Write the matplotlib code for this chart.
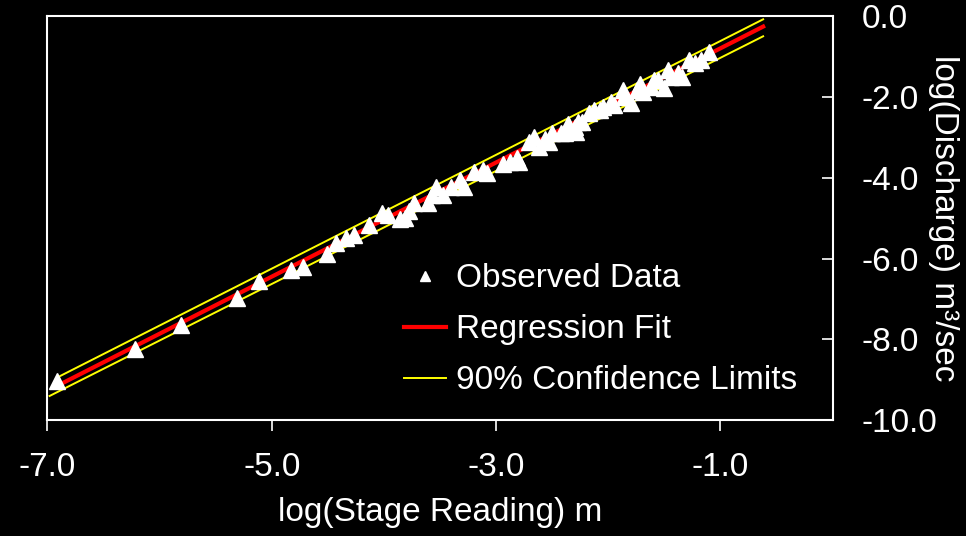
import matplotlib
matplotlib.use('Agg')
import matplotlib.pyplot as plt
import numpy as np

# observed points (log stage, log discharge)
stage = [-6.91, -6.22, -5.81, -5.31, -5.11, -4.83, -4.72, -4.51, -4.43, -4.34,
         -4.27, -4.13, -4.02, -3.96, -3.86, -3.81, -3.78, -3.73, -3.61, -3.57,
         -3.54, -3.47, -3.40, -3.32, -3.29, -3.20, -3.12, -3.08, -2.94, -2.88,
         -2.81, -2.80, -2.71, -2.66, -2.62, -2.56, -2.53, -2.50, -2.42, -2.39,
         -2.36, -2.35, -2.30, -2.29, -2.27, -2.23, -2.17, -2.13, -2.07, -2.05,
         -1.98, -1.95, -1.87, -1.86, -1.80, -1.74, -1.72, -1.69, -1.62, -1.59,
         -1.56, -1.50, -1.47, -1.44, -1.38, -1.34, -1.28, -1.23, -1.17, -1.10]
discharge = [-9.03, -8.24, -7.65, -6.98, -6.56, -6.29, -6.20, -5.89, -5.61, -5.49,
             -5.41, -5.18, -4.88, -4.93, -5.02, -4.99, -4.83, -4.62, -4.62, -4.43,
             -4.22, -4.43, -4.22, -4.06, -4.22, -3.85, -3.80, -3.89, -3.65, -3.61,
             -3.52, -3.61, -3.11, -2.99, -3.24, -3.03, -3.11, -2.90, -2.90, -2.90,
             -2.66, -2.74, -2.74, -2.86, -2.62, -2.62, -2.41, -2.33, -2.33, -2.24,
             -2.12, -2.20, -1.83, -2.00, -2.16, -1.83, -1.67, -1.87, -1.75, -1.58,
             -1.58, -1.79, -1.34, -1.50, -1.42, -1.50, -1.09, -1.17, -1.09, -0.88]

# regression fit and 90% limits (end points)
fit_x = [-6.87, -0.62]
fit_y = [-9.09, -0.26]
upper_x = [-6.91, -0.62]
upper_y = [-8.94, -0.08]
lower_x = [-6.98, -0.62]
lower_y = [-9.40, -0.50]

xticks = [-7.0, -5.0, -3.0, -1.0]
yticks = [0.0, -2.0, -4.0, -6.0, -8.0, -10.0]

plt.rcParams['font.family'] = ['Liberation Sans', 'DejaVu Sans']
plt.rcParams['axes.unicode_minus'] = False
plt.rcParams['font.size'] = 24

fig = plt.figure(figsize=(9.66, 5.36), dpi=100, facecolor='black')
ax = fig.add_axes([0.049, 0.216, 0.813, 0.754])
ax.set_facecolor('black')

ax.plot(upper_x, upper_y, color='#ffff00', lw=1.4, zorder=2, label='90% Confidence Limits')
ax.plot(lower_x, lower_y, color='#ffff00', lw=1.4, zorder=2)
ax.plot(fit_x, fit_y, color='#ff0000', lw=3.0, zorder=3, label='Regression Fit')
ax.plot(stage, discharge, ls='none', marker='^', ms=12, color='white',
        mec='white', zorder=4, label='Observed Data')

ax.set_xlim(-7.0, 0.0)
ax.set_ylim(-10.0, 0.0)
ax.set_xticks(xticks)
ax.set_yticks(yticks)
ax.set_xticklabels(['%.1f' % t for t in xticks])
ax.set_yticklabels(['%.1f' % t for t in yticks])

for s in ax.spines.values():
    s.set_color('white')
    s.set_linewidth(1.5)

ax.tick_params(axis='x', colors='white', direction='out', length=8, width=1.2,
               pad=15, bottom=True, top=False)
ax.yaxis.tick_right()
ax.tick_params(axis='y', colors='white', direction='in', length=8, width=1.2,
               pad=21, left=False, right=True)

ax.set_xlabel('log(Stage Reading) m', color='white', labelpad=10)
ax.yaxis.set_label_position('right')
ax.set_ylabel('log(Discharge) m\u00b3/sec', color='white', rotation=270,
              va='center', ha='center')
ax.yaxis.set_label_coords(1.141, 0.5)

h, l = ax.get_legend_handles_labels()
leg = ax.legend(h[::-1], l[::-1], loc='lower left', bbox_to_anchor=(0.416, -0.015),
                frameon=False, labelcolor='white', markerscale=0.6,
                handlelength=1.25, handletextpad=0.3, labelspacing=0.6)

fig.savefig('out.png', dpi=100, facecolor='black')
